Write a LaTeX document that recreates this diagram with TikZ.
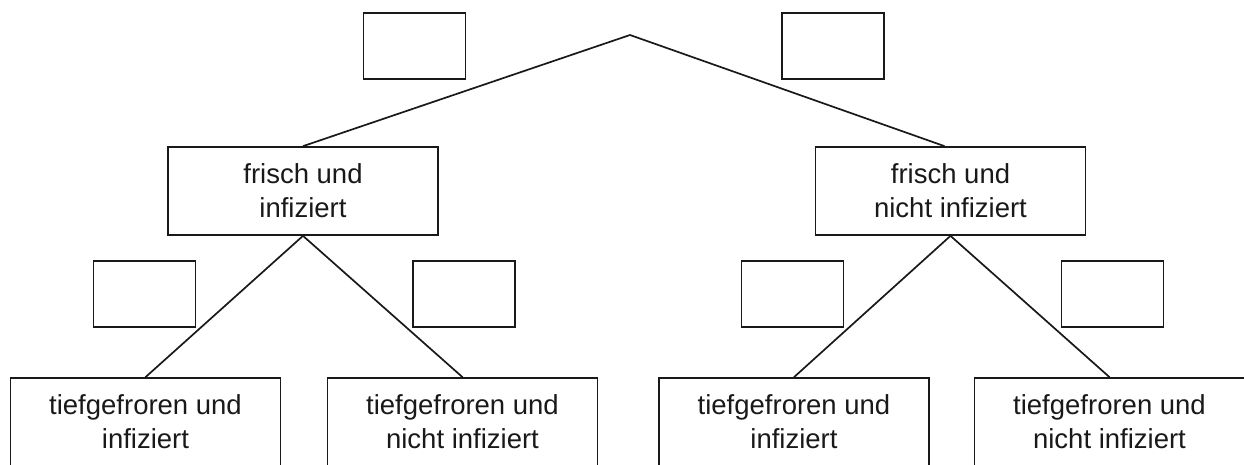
\documentclass[tikz,border=0pt]{standalone}
\usepackage{fontspec}
\setmainfont{Liberation Sans}
\begin{document}
\begin{tikzpicture}[x=1pt,y=-1pt,
  ln/.style={line width=1.7pt, black!90},
  box/.style={draw, line width=1.7pt, black!90, rectangle, inner sep=0pt, align=center,
    text=black!90, font=\fontsize{27.5}{34}\selectfont},
  big/.style={box, minimum width=270pt, minimum height=88pt},
  small/.style={box, minimum width=102pt, minimum height=66pt}]
\useasboundingbox (0,0) rectangle (1244,464);
\clip (0,0) rectangle (1244,464);
% empty label boxes
\node[small] (t1) at (414.5,46) {};
\node[small] (t2) at (833,46) {};
\node[small] (s1) at (144.5,294) {};
\node[small] (s2) at (464,294) {};
\node[small] (s3) at (792.5,294) {};
\node[small] (s4) at (1112.5,294) {};
% tree nodes
\coordinate (root) at (630,35);
\node[big] (a) at (303,191) {frisch und\\infiziert};
\node[big] (b) at (950.5,191) {frisch und\\nicht infiziert};
\node[big] (a1) at (145.5,422) {tiefgefroren und\\infiziert};
\node[big] (a2) at (462.5,422) {tiefgefroren und\\nicht infiziert};
\node[big] (b1) at (794,422) {tiefgefroren und\\infiziert};
\node[big] (b2) at (1109.5,422) {tiefgefroren und\\nicht infiziert};
% connectors
\draw[ln] (a.north) -- (root) -- ([xshift=-6pt]b.north);
\draw[ln] (a1.north) -- (a.south) -- (a2.north);
\draw[ln] (b1.north) -- (b.south) -- (b2.north);
\end{tikzpicture}
\end{document}
